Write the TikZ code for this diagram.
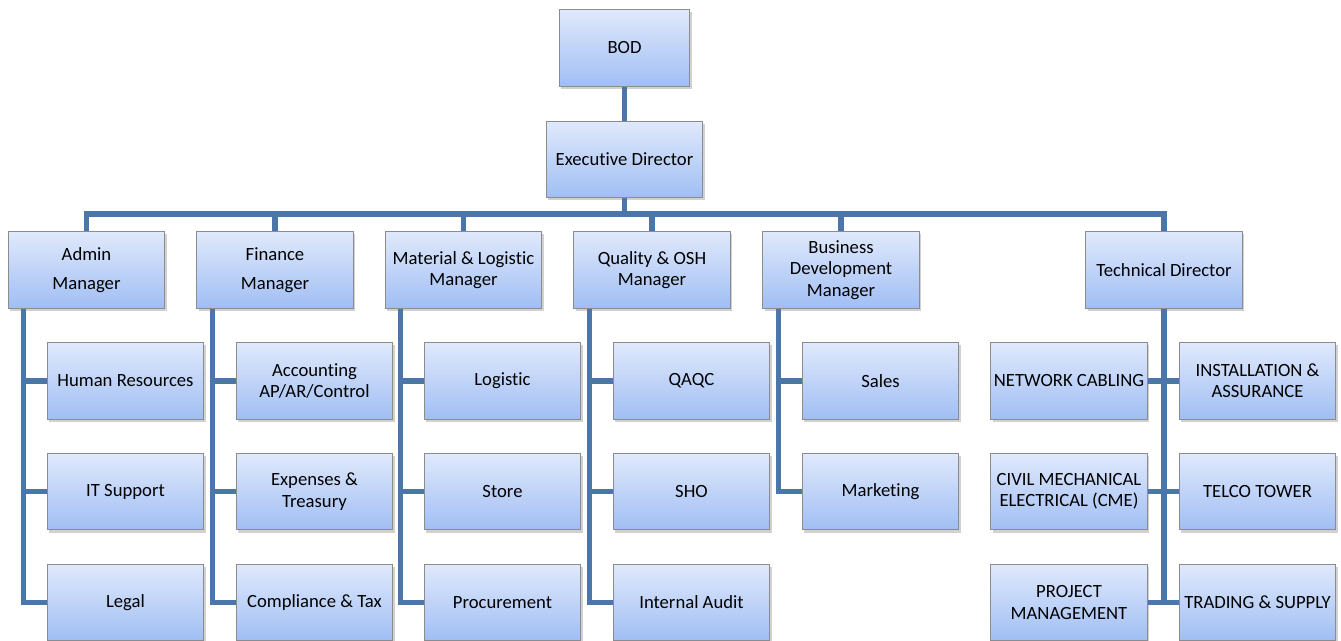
\documentclass[tikz,border=0pt]{standalone}
\usepackage{fontspec}
\setmainfont{Carlito}[RawFeature={-liga;-clig;-calt;-dlig}]
\usetikzlibrary{positioning, shadows}

\definecolor{linkblue}{RGB}{74,118,170}
\definecolor{boxtop}{RGB}{224,233,252}
\definecolor{boxbottom}{RGB}{160,190,244}

\begin{document}
\begin{tikzpicture}[x=0.75pt, y=-0.75pt,
    % Styles
    unit/.style={draw=black!45, line width=0.8pt, top color=boxtop, bottom color=boxbottom,
        minimum width=117.5pt, minimum height=57.5pt, align=center, inner sep=1pt,
        font=\fontsize{14}{16}\selectfont,
        drop shadow={shadow xshift=1.5pt, shadow yshift=-2pt, fill=black!40, opacity=0.45}},
    link/.style={draw=linkblue, line width=3.8pt, line join=miter},
]
\useasboundingbox (0,0) rectangle (1341,641);

% Top
\node[unit, minimum width=98pt] (bod) at (624.5, 48) {BOD};
\node[unit] (exec) at (624.5, 159.5) {Executive Director};
\coordinate (busy) at (0, 214);

% Managers
\node[unit] (admin) at (86.5, 270) {Admin\\[6pt]Manager};
\node[unit] (finance) at (275, 270) {Finance\\[6pt]Manager};
\node[unit] (material) at (463.5, 270) {Material \& Logistic\\Manager};
\node[unit] (quality) at (652, 270) {Quality \& OSH\\Manager};
\node[unit] (business) at (841, 270) {Business\\Development\\Manager};
\node[unit] (tech) at (1164, 270) {Technical Director};

% Admin
\node[unit] (hr) at (125.5, 381) {Human Resources};
\node[unit] (itsupport) at (125.5, 491.5) {IT Support};
\node[unit] (legal) at (125.5, 602.5) {Legal};

% Finance
\node[unit] (accounting) at (314.5, 381) {Accounting\\AP/AR/Control};
\node[unit] (expenses) at (314.5, 491.5) {Expenses \&\\Treasury};
\node[unit] (compliance) at (314.5, 602.5) {Compliance \& Tax};

% Material & Logistic
\node[unit] (logistic) at (502.5, 381) {Logistic};
\node[unit] (store) at (502.5, 491.5) {Store};
\node[unit] (procurement) at (502.5, 602.5) {Procurement};

% Quality & OSH
\node[unit] (qaqc) at (691.5, 381) {QAQC};
\node[unit] (sho) at (691.5, 491.5) {SHO};
\node[unit] (audit) at (691.5, 602.5) {Internal Audit};

% Business Development
\node[unit] (sales) at (880.5, 381) {Sales};
\node[unit] (marketing) at (880.5, 491.5) {Marketing};

% Technical
\node[unit] (cabling) at (1069, 381) {NETWORK CABLING};
\node[unit] (cme) at (1069, 491.5) {CIVIL MECHANICAL\\ELECTRICAL (CME)};
\node[unit] (project) at (1069, 602.5) {PROJECT\\MANAGEMENT};
\node[unit] (install) at (1257.5, 381) {INSTALLATION \&\\ASSURANCE};
\node[unit] (telco) at (1257.5, 491.5) {TELCO TOWER};
\node[unit] (trading) at (1257.5, 602.5) {TRADING \& SUPPLY};

% Connectors
\draw[link] (bod) -- (exec);
\foreach \m in {admin, finance, material, quality, business, tech}
    \draw[link] (exec.south) -- (exec.south |- busy) -| (\m.north);

\foreach \m/\kids in {admin/{hr, itsupport, legal}, finance/{accounting, expenses, compliance},
        material/{logistic, store, procurement}, quality/{qaqc, sho, audit},
        business/{sales, marketing}}
    \foreach \k in \kids
        \draw[link] ([xshift=12pt]\m.south west) |- (\k.west);

\foreach \k in {cabling, cme, project}
    \draw[link] (tech.south) |- (\k.east);
\foreach \k in {install, telco, trading}
    \draw[link] (tech.south) |- (\k.west);

\end{tikzpicture}
\end{document}
